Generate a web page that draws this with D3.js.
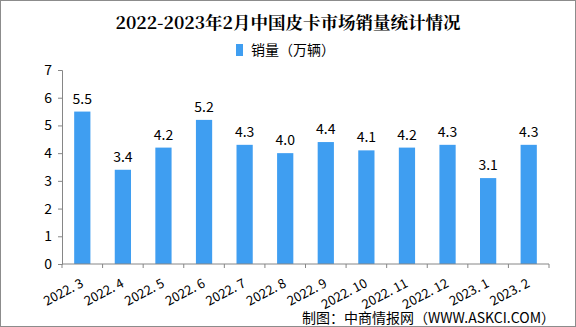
<!DOCTYPE html>
<html><head><meta charset="utf-8">
<script src="https://cdn.jsdelivr.net/npm/d3@7"></script>
<style>
html,body{margin:0;padding:0;background:#fff;}
svg{display:block;}
</style></head>
<body>
<svg id="c" width="576" height="327"></svg>
<script>
const categories = ["2022. 3","2022. 4","2022. 5","2022. 6","2022. 7","2022. 8","2022. 9","2022. 10","2022. 11","2022. 12","2023. 1","2023. 2"];
const values = [5.5,3.4,4.2,5.2,4.3,4.0,4.4,4.1,4.2,4.3,3.1,4.3];
const yTicks = [0,1,2,3,4,5,6,7];
const title = "2022-2023年2月中国皮卡市场销量统计情况";
const legendLabel = "销量（万辆）";
const sourceText = "制图：中商情报网（WWW.ASKCI.COM）";

const W = 576, H = 327;
const m = {left:62, right:27, top:70, bottom:63};
const font = "'Noto Sans CJK SC','DejaVu Sans',sans-serif";
const barColor = "#3f9ef1";
const axisColor = "#868686";

const svg = d3.select("#c");
svg.append("rect").attr("x",0.5).attr("y",0.5).attr("width",W-1).attr("height",H-1)
  .attr("fill","#fff").attr("stroke","#8c8c8c");

const x = d3.scaleBand().domain(categories).range([m.left, W-m.right]).paddingInner(0.6).paddingOuter(0.3);
const y = d3.scaleLinear().domain([0,7]).range([H-m.bottom, m.top]);

// title
svg.append("text").attr("x",288).attr("y",29).attr("text-anchor","middle")
  .attr("font-family","'Noto Serif CJK SC','Noto Sans CJK SC',serif").attr("font-weight","bold")
  .attr("font-size",17.5).attr("fill","#000").text(title);

// legend
svg.append("rect").attr("x",236).attr("y",44).attr("width",7).attr("height",12).attr("fill",barColor);
svg.append("text").attr("x",251).attr("y",55).attr("font-family",font).attr("font-size",14)
  .attr("fill","#000").text(legendLabel);

// bars
svg.append("g").selectAll("rect").data(values).join("rect")
  .attr("x",(d,i)=>x(categories[i])).attr("width",x.bandwidth())
  .attr("y",d=>y(d)).attr("height",d=>y(0)-y(d)).attr("fill",barColor);

// value labels
svg.append("g").selectAll("text").data(values).join("text")
  .attr("x",(d,i)=>x(categories[i])+x.bandwidth()/2).attr("y",d=>y(d)-8)
  .attr("text-anchor","middle").attr("font-family",font).attr("font-size",14).attr("fill","#000")
  .text(d=>d.toFixed(1));

// y axis
const ya = svg.append("g").attr("transform",`translate(${m.left},0)`)
  .call(d3.axisLeft(y).tickValues(yTicks).tickSize(4).tickPadding(6).tickFormat(d3.format("d")));
ya.select(".domain").attr("stroke",axisColor);
ya.selectAll(".tick line").attr("stroke",axisColor);
ya.selectAll("text").attr("font-family",font).attr("font-size",14).attr("fill","#000");

// x axis
const band = (W-m.left-m.right)/categories.length;
const xa = svg.append("g").attr("transform",`translate(0,${y(0)})`);
xa.append("line").attr("x1",m.left).attr("x2",W-m.right).attr("stroke",axisColor);
xa.selectAll("line.t").data(d3.range(categories.length+1)).join("line").attr("class","t")
  .attr("x1",i=>m.left+i*band).attr("x2",i=>m.left+i*band).attr("y1",0).attr("y2",4).attr("stroke",axisColor);
xa.selectAll("text").data(categories).join("text")
  .attr("transform",d=>`translate(${x(d)+x.bandwidth()/2+2},22) rotate(-28)`)
  .attr("text-anchor","end").attr("font-family",font).attr("font-size",13).attr("fill","#000")
  .text(d=>d);

// source
svg.append("text").attr("x",555).attr("y",323).attr("text-anchor","end")
  .attr("font-family",font).attr("font-size",14).attr("fill","#000").text(sourceText);
</script>
</body></html>
